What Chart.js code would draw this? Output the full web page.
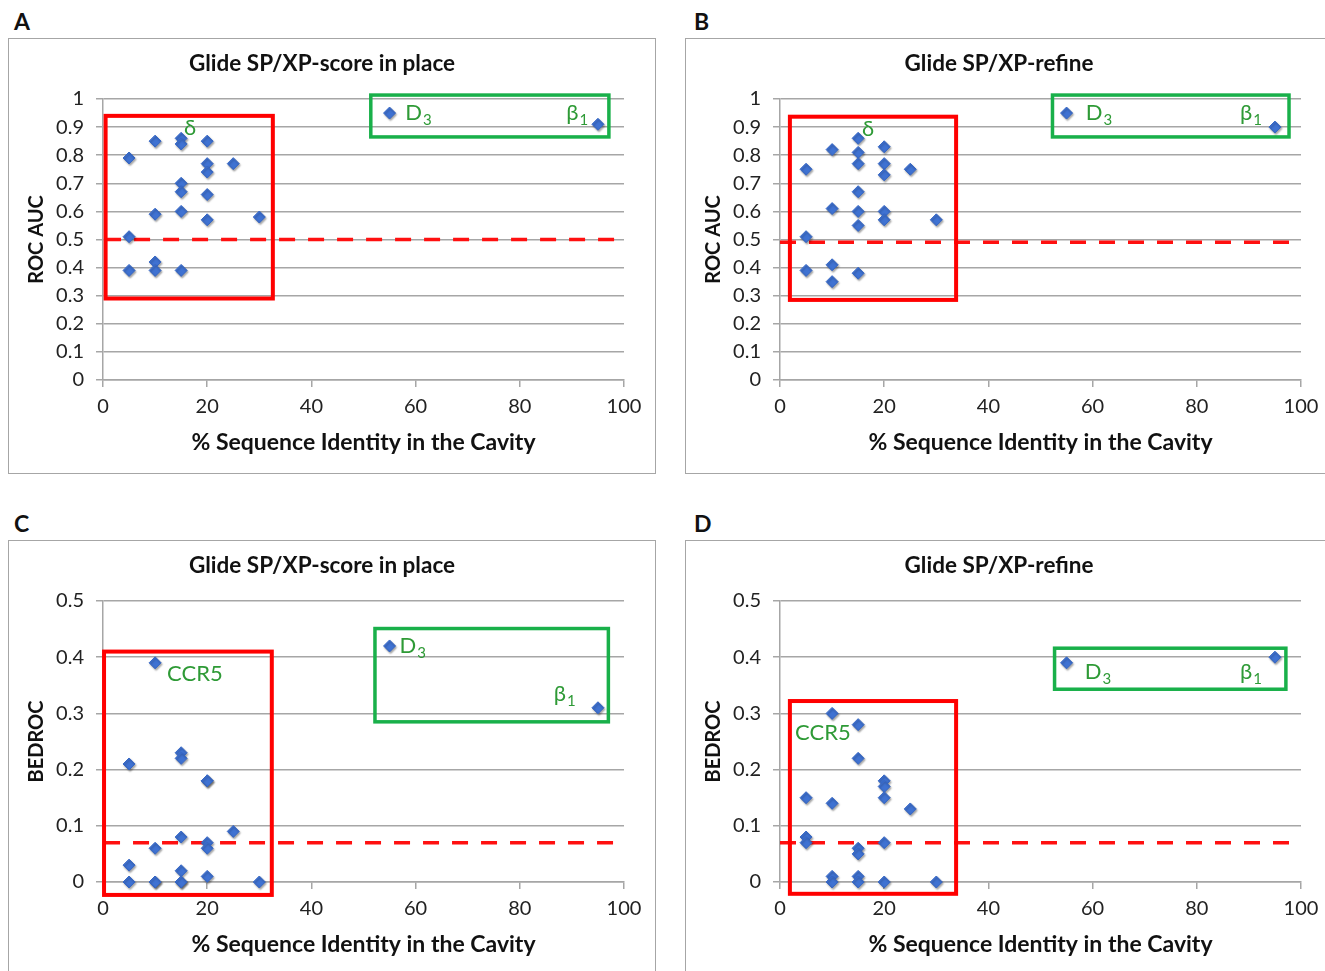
<!DOCTYPE html>
<html><head><meta charset="utf-8">
<script src="https://cdn.jsdelivr.net/npm/chart.js@4/dist/chart.umd.min.js"></script>
<style>
html,body{margin:0;padding:0;width:1325px;height:971px;overflow:hidden;background:#fff;}
.cv{position:absolute;}
.frame{position:absolute;width:648px;height:436px;border:1.5px solid #a6a6a6;box-sizing:border-box;pointer-events:none;}
.letter{position:absolute;font:bold 23px Lato, sans-serif;line-height:23px;color:#111;}
</style></head><body>
<div class="letter" style="left:14px;top:10px">A</div>
<div class="letter" style="left:694px;top:10px">B</div>
<div class="letter" style="left:14px;top:512px">C</div>
<div class="letter" style="left:694px;top:512px">D</div>
<script>
// ---- data ----
const xTickValues = [0, 20, 40, 60, 80, 100];
const titleScoreInPlace = 'Glide SP/XP-score in place';
const titleRefine = 'Glide SP/XP-refine';
const xAxisTitle = '% Sequence Identity in the Cavity';

const aX = [5,5,5,10,10,10,10,15,15,15,15,15,15,20,20,20,20,20,25,30,55,95];
const aY = [0.79,0.51,0.39,0.85,0.59,0.42,0.39,0.86,0.84,0.70,0.67,0.60,0.39,0.85,0.77,0.74,0.66,0.57,0.77,0.58,0.95,0.91];

const bX = [5,5,5,10,10,10,10,15,15,15,15,15,15,15,20,20,20,20,20,25,30,55,95];
const bY = [0.75,0.51,0.39,0.82,0.61,0.41,0.35,0.86,0.81,0.77,0.67,0.60,0.55,0.38,0.83,0.77,0.73,0.60,0.57,0.75,0.57,0.95,0.90];

const cX = [5,5,5,10,10,10,10,15,15,15,15,15,15,20,20,20,20,20,25,30,55,95];
const cY = [0.21,0.03,0,0.39,0.06,0,0,0.23,0.22,0.08,0.02,0,0,0.18,0.18,0.07,0.06,0.01,0.09,0,0.42,0.31];

const dX = [5,5,5,10,10,10,10,15,15,15,15,15,15,20,20,20,20,20,25,30,55,95];
const dY = [0.15,0.08,0.07,0.30,0.14,0.01,0,0.28,0.22,0.06,0.05,0.01,0,0.18,0.17,0.15,0.07,0,0.13,0,0.39,0.40];

const thresholds = [0.5, 0.49, 0.07, 0.07];

// ---- annotation geometry (data units) ----
const annots = [
  {red:[0.5,32.6,0.29,0.94], green:[51.4,97.1,0.865,1.014], dash:[0.4,98.3],
   labels:[{t:'δ',x:16.7,y:0.897,c:true},{t:'D',s:'3',x:58,y:0.95},{t:'β',s:'1',x:88.9,y:0.95}]},
  {red:[1.9,33.8,0.285,0.937], green:[52.3,97.7,0.865,1.014], dash:[0,98.8],
   labels:[{t:'δ',x:16.9,y:0.893,c:true},{t:'D',s:'3',x:58.7,y:0.95},{t:'β',s:'1',x:88.3,y:0.95}]},
  {red:[0.2,32.4,-0.023,0.41], green:[52.2,97,0.285,0.451], dash:[0.2,98.5],
   labels:[{t:'CCR5',x:12.3,y:0.37},{t:'D',s:'3',x:56.9,y:0.42},{t:'β',s:'1',x:86.5,y:0.335}]},
  {red:[1.9,33.8,-0.021,0.322], green:[52.7,97.1,0.343,0.416], dash:[0,98.4],
   labels:[{t:'CCR5',x:2.9,y:0.265},{t:'D',s:'3',x:58.5,y:0.374},{t:'β',s:'1',x:88.3,y:0.374}]}
];

const panels = [
  {left:8, top:38, title:titleScoreInPlace, yTitle:'ROC AUC', xs:aX, ys:aY, yMax:1},
  {left:685, top:38, title:titleRefine, yTitle:'ROC AUC', xs:bX, ys:bY, yMax:1},
  {left:8, top:540, title:titleScoreInPlace, yTitle:'BEDROC', xs:cX, ys:cY, yMax:0.5},
  {left:685, top:540, title:titleRefine, yTitle:'BEDROC', xs:dX, ys:dY, yMax:0.5}
];

const GREEN_TXT = '#2e9a36';
const annotPlugin = {
  id: 'annot',
  beforeDatasetsDraw(chart, args, opts) {
    const a = opts.a, th = opts.th;
    const xs = chart.scales.x, ys = chart.scales.y;
    const ctx = chart.ctx;
    ctx.save();
    ctx.strokeStyle = '#ff1010';
    ctx.lineWidth = 3.5;
    ctx.setLineDash([16, 13]);
    ctx.beginPath();
    ctx.moveTo(xs.getPixelForValue(a.dash[0]), ys.getPixelForValue(th));
    ctx.lineTo(xs.getPixelForValue(a.dash[1]), ys.getPixelForValue(th));
    ctx.stroke();
    ctx.setLineDash([]);
    const box = (b, col, w) => {
      const x1 = xs.getPixelForValue(b[0]), x2 = xs.getPixelForValue(b[1]);
      const y1 = ys.getPixelForValue(b[3]), y2 = ys.getPixelForValue(b[2]);
      ctx.strokeStyle = col; ctx.lineWidth = w;
      ctx.strokeRect(x1, y1, x2 - x1, y2 - y1);
    };
    box(a.red, '#ff0000', 4);
    box(a.green, '#19b04a', 3.5);
    ctx.fillStyle = GREEN_TXT;
    ctx.textBaseline = 'middle';
    a.labels.forEach(l => {
      let px = xs.getPixelForValue(l.x), py = ys.getPixelForValue(l.y);
      ctx.font = '22px Lato, sans-serif';
      if (l.c) { ctx.textAlign = 'center'; ctx.fillText(l.t, px, py); return; }
      ctx.textAlign = 'left';
      ctx.fillText(l.t, px, py);
      if (l.s) {
        const w = ctx.measureText(l.t).width;
        ctx.font = '15px Lato, sans-serif';
        ctx.fillText(l.s, px + w + 1, py + 7);
      }
    });
    ctx.restore();
  },
  beforeDatasetDraw(chart) {
    const ctx = chart.ctx;
    ctx.save();
    ctx.shadowColor = 'rgba(0,0,0,0.35)';
    ctx.shadowBlur = 2;
    ctx.shadowOffsetX = 1;
    ctx.shadowOffsetY = 1.5;
  },
  afterDatasetDraw(chart) { chart.ctx.restore(); }
};

const tickFont = {family: 'Lato, sans-serif', size: 20};
const gridCol = '#a6a6a6';

panels.forEach((p, i) => {
  const cv = document.createElement('canvas');
  cv.className = 'cv';
  cv.width = 648; cv.height = 436;
  cv.style.left = p.left + 'px'; cv.style.top = p.top + 'px';
  cv.style.width = '648px'; cv.style.height = '436px';
  document.body.appendChild(cv);
  const fr = document.createElement('div');
  fr.className = 'frame';
  fr.style.left = p.left + 'px'; fr.style.top = p.top + 'px';
  document.body.appendChild(fr);

  new Chart(cv, {
    type: 'scatter',
    data: {
      datasets: [{
        data: p.xs.map((x, k) => ({x: x, y: p.ys[k]})),
        pointStyle: 'rectRot',
        pointRadius: 6,
        backgroundColor: '#3f72d2',
        borderColor: '#3566c4',
        borderWidth: 1,
        clip: false
      }]
    },
    options: {
      responsive: false,
      animation: false,
      devicePixelRatio: 1,
      layout: {padding: {left: 12, right: 32, top: 0, bottom: 16}},
      plugins: {
        legend: {display: false},
        tooltip: {enabled: false},
        title: {
          display: true, text: p.title, color: '#111',
          font: {family: 'Lato, sans-serif', size: 22.5, weight: 'bold', lineHeight: 1.2},
          padding: {top: 12, bottom: 22}
        },
        annot: {a: annots[i], th: thresholds[i]}
      },
      scales: {
        x: {
          type: 'linear', min: 0, max: 100,
          afterBuildTicks: s => { s.ticks = xTickValues.map(v => ({value: v})); },
          afterFit: s => { s.height = 78; },
          ticks: {font: tickFont, color: '#222', padding: 8, maxRotation: 0},
          grid: {drawOnChartArea: false, drawTicks: true, tickLength: 7, color: gridCol, lineWidth: 1.5},
          border: {color: gridCol, width: 1.5},
          title: {display: true, text: xAxisTitle, color: '#111',
            font: {family: 'Lato, sans-serif', size: 23, weight: 'bold', lineHeight: 1.2},
            padding: {top: 0, bottom: 2}}
        },
        y: {
          type: 'linear', min: 0, max: p.yMax,
          ticks: {stepSize: 0.1, font: tickFont, color: '#222', padding: 12,
            callback: v => String(+Number(v).toFixed(2))},
          afterFit: s => { s.width = 83; },
          grid: {drawOnChartArea: true, drawTicks: true, tickLength: 7, color: gridCol, lineWidth: 1.5},
          border: {color: gridCol, width: 1.5},
          title: {display: true, text: p.yTitle, color: '#111',
            font: {family: 'Lato, sans-serif', size: 20, weight: 'bold', lineHeight: 1.2},
            padding: {top: 5, bottom: 0}}
        }
      }
    },
    plugins: [annotPlugin]
  });
});
</script>
</body></html>
